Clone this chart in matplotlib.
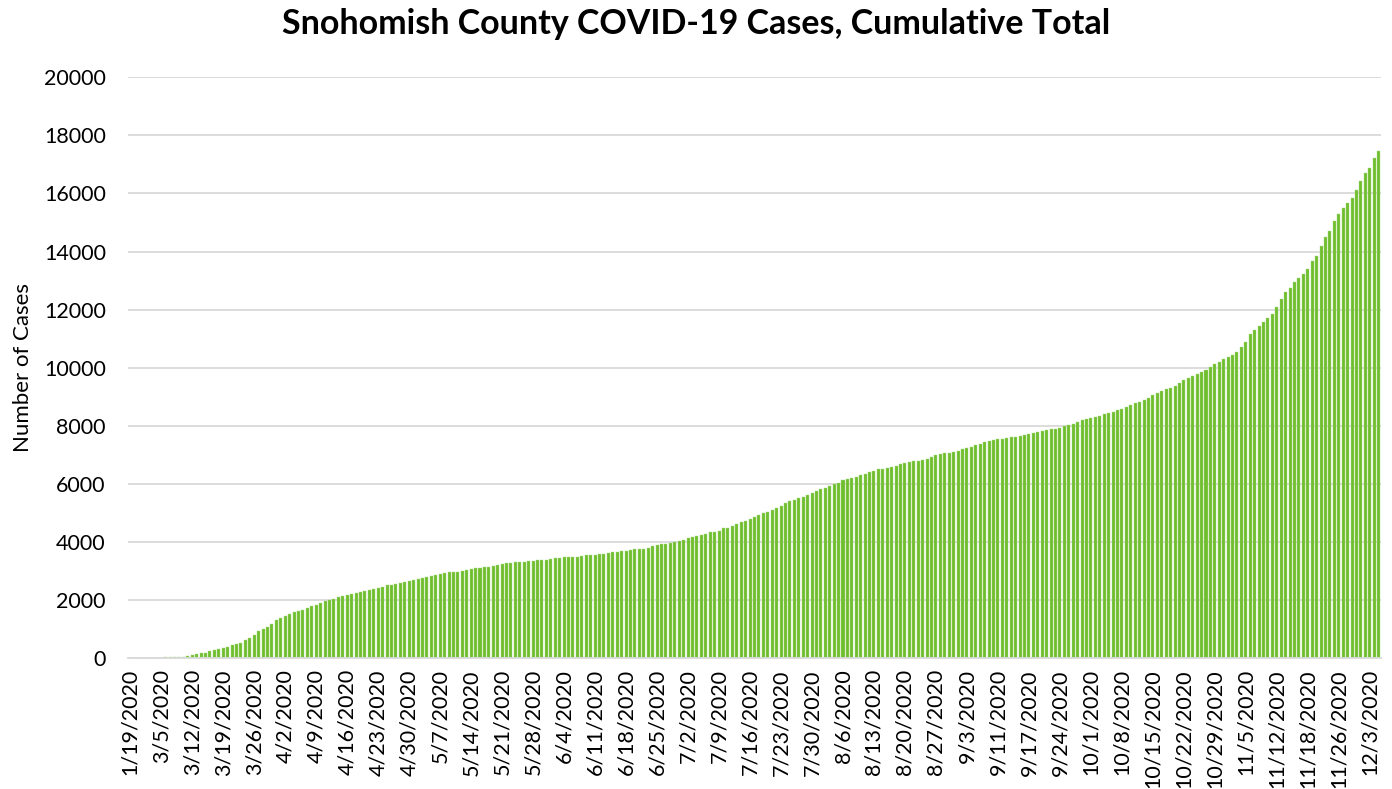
import matplotlib
matplotlib.use("Agg")
import matplotlib.pyplot as plt
import numpy as np

TITLE = "Snohomish County COVID-19 Cases, Cumulative Total"
Y_LABEL = "Number of Cases"

# cumulative cases, one bar per reported day (1/19/2020 .. 12/5/2020)
cumulative_cases = [
    1, 1, 2, 4, 6, 8, 12, 16, 20, 25,
    33, 46, 50, 70, 104, 127, 160, 185, 230, 266,
    300, 335, 393, 450, 497, 532, 613, 705, 786, 925,
    1006, 1052, 1156, 1295, 1364, 1433, 1503, 1572, 1618, 1641,
    1711, 1780, 1815, 1907, 1954, 1988, 2035, 2085, 2149, 2183,
    2206, 2251, 2286, 2320, 2354, 2389, 2423, 2457, 2503, 2526,
    2549, 2583, 2617, 2663, 2697, 2731, 2754, 2777, 2811, 2846,
    2891, 2926, 2949, 2955, 2971, 3006, 3029, 3063, 3086, 3109,
    3132, 3143, 3166, 3189, 3234, 3257, 3280, 3291, 3303, 3314,
    3326, 3349, 3360, 3371, 3390, 3405, 3434, 3440, 3468, 3480,
    3485, 3491, 3526, 3538, 3549, 3561, 3572, 3595, 3630, 3642,
    3665, 3676, 3688, 3734, 3740, 3746, 3757, 3780, 3850, 3884,
    3919, 3942, 3965, 4012, 4046, 4081, 4150, 4173, 4197, 4220,
    4266, 4324, 4335, 4381, 4462, 4485, 4543, 4613, 4670, 4728,
    4798, 4867, 4913, 4989, 5035, 5103, 5160, 5252, 5345, 5391,
    5437, 5506, 5540, 5609, 5678, 5759, 5816, 5862, 5908, 5977,
    6034, 6115, 6161, 6207, 6241, 6287, 6345, 6391, 6437, 6494,
    6506, 6529, 6575, 6609, 6666, 6701, 6735, 6781, 6793, 6827,
    6862, 6919, 6977, 7011, 7046, 7069, 7103, 7138, 7183, 7218,
    7270, 7322, 7380, 7426, 7460, 7506, 7529, 7540, 7563, 7598,
    7621, 7644, 7678, 7713, 7759, 7793, 7828, 7851, 7880, 7891,
    7937, 7995, 8034, 8069, 8126, 8195, 8229, 8263, 8286, 8343,
    8389, 8424, 8469, 8538, 8584, 8653, 8710, 8767, 8813, 8870,
    8950, 9065, 9134, 9202, 9282, 9305, 9385, 9488, 9560, 9640,
    9700, 9780, 9840, 9930, 10020, 10110, 10200, 10290, 10380, 10437,
    10552, 10725, 10897, 11151, 11300, 11449, 11587, 11713, 11862, 12092,
    12367, 12619, 12757, 12952, 13101, 13239, 13411, 13663, 13847, 14191,
    14512, 14707, 15063, 15303, 15487, 15670, 15831, 16118, 16416, 16714,
    16875, 17230, 17460,
]

# every 7th category is labelled
tick_labels = [
    "1/19/2020", "3/5/2020", "3/12/2020", "3/19/2020", "3/26/2020",
    "4/2/2020", "4/9/2020", "4/16/2020", "4/23/2020", "4/30/2020",
    "5/7/2020", "5/14/2020", "5/21/2020", "5/28/2020", "6/4/2020",
    "6/11/2020", "6/18/2020", "6/25/2020", "7/2/2020", "7/9/2020",
    "7/16/2020", "7/23/2020", "7/30/2020", "8/6/2020", "8/13/2020",
    "8/20/2020", "8/27/2020", "9/3/2020", "9/11/2020", "9/17/2020",
    "9/24/2020", "10/1/2020", "10/8/2020", "10/15/2020", "10/22/2020",
    "10/29/2020", "11/5/2020", "11/12/2020", "11/18/2020", "11/26/2020",
    "12/3/2020",
]
TICK_STEP = 7

y_ticks = list(range(0, 20001, 2000))

BAR_COLOR = "#6FBE2E"
GRID_COLOR = "#D9D9D9"
TEXT_COLOR = "#000000"

plt.rcParams["font.family"] = ["Lato", "DejaVu Sans"]

fig = plt.figure(figsize=(13.92, 7.89), dpi=100)
ax = fig.add_axes([0.092, 0.166, 0.900, 0.736])

x = np.arange(len(cumulative_cases))
ax.bar(x, cumulative_cases, width=0.68, color=BAR_COLOR, edgecolor="#A9D982",
       linewidth=0.3, zorder=2)

ax.set_xlim(-0.5, len(cumulative_cases) - 0.5)
ax.set_ylim(0, 20000)
ax.set_yticks(y_ticks)
ax.set_yticklabels([str(v) for v in y_ticks], fontsize=15.5)
ax.set_xticks(np.arange(len(tick_labels)) * TICK_STEP)
ax.set_xticklabels(tick_labels, rotation=90, fontsize=15.5)
ax.tick_params(axis="both", length=0, colors=TEXT_COLOR)
ax.tick_params(axis="y", pad=16)
ax.tick_params(axis="x", pad=8)

ax.yaxis.grid(True, color=GRID_COLOR, linewidth=1.3, zorder=0)
ax.set_axisbelow(True)
for side in ("top", "right", "left"):
    ax.spines[side].set_visible(False)
ax.spines["bottom"].set_color(GRID_COLOR)
ax.spines["bottom"].set_linewidth(1.3)

ax.set_ylabel(Y_LABEL, fontsize=16, labelpad=8)
fig.suptitle(TITLE, fontsize=24.5, fontweight="bold", x=0.5, y=0.99)

fig.savefig("out.png", dpi=100)
